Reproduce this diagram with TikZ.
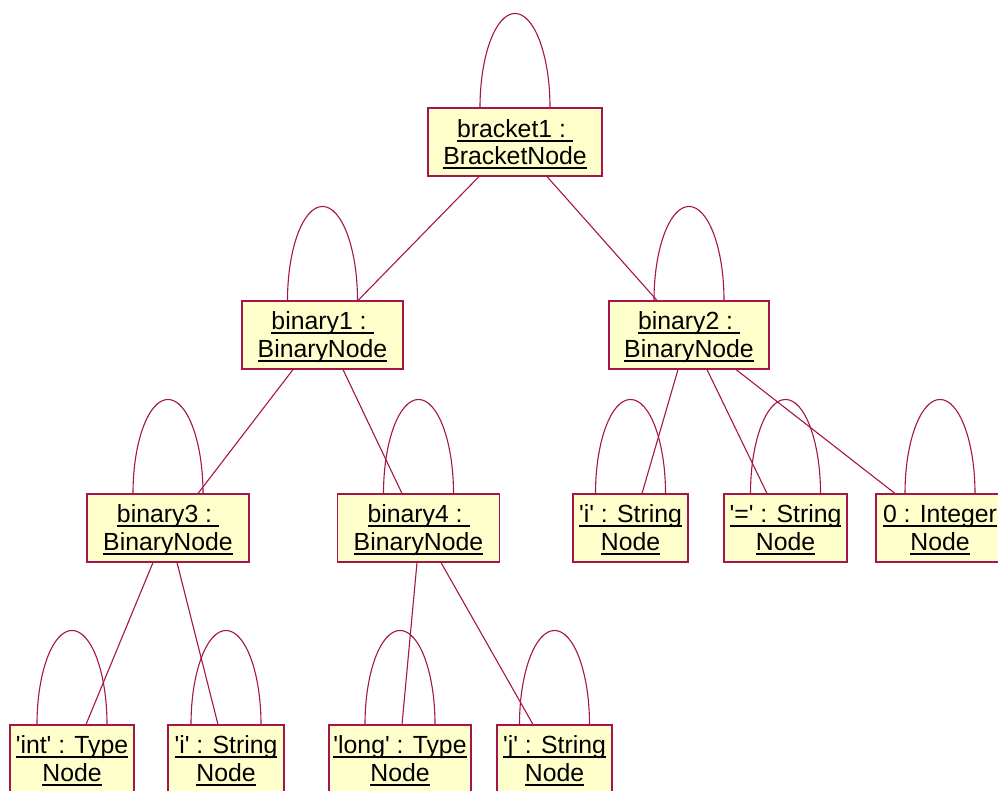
\documentclass[tikz,border=0pt]{standalone}
\usepackage{fontspec}
\setmainfont{Liberation Sans}
\definecolor{edgecol}{RGB}{165,20,75}
\definecolor{boxfill}{RGB}{255,255,204}
% underline at a fixed depth below the baseline
\newcommand\ulin[1]{\setbox0\hbox{#1}\rlap{\rule[-4.6pt]{\wd0}{1.7pt}}\box0}
\newcommand\sq{\textquotesingle}
% two underlined lines with fixed metrics
\newcommand\objtxt[2]{\ulin{#1}\rule[-5pt]{0pt}{27pt}\\\ulin{#2}\rule[-5pt]{0pt}{27pt}}
\begin{document}
\begin{tikzpicture}[x=1pt,y=1pt,
  obj/.style={draw=edgecol, fill=boxfill, line width=1.1pt, inner sep=0pt,
    minimum height=68pt, align=center,
    font=\fontsize{24.8}{27}\selectfont},
  link/.style={draw=edgecol, line width=1.1pt},
  selfloop/.style={draw=edgecol, line width=1.1pt}]
\useasboundingbox (0,0) rectangle (998,-790);
\clip (0,0) rectangle (998,-790);

% object boxes
\node[obj, minimum width=174pt] (br) at (515,-142) {\objtxt{bracket1 :\ }{BracketNode}};
\node[obj, minimum width=161pt] (b1) at (322.5,-335) {\objtxt{binary1 :\ }{BinaryNode}};
\node[obj, minimum width=160pt] (b2) at (689,-335) {\objtxt{binary2 :\ }{BinaryNode}};
\node[obj, minimum width=162pt] (b3) at (168,-528) {\objtxt{binary3 :\ }{BinaryNode}};
\node[obj, minimum width=162pt] (b4) at (418.5,-528) {\objtxt{binary4 :\ }{BinaryNode}};
\node[obj, minimum width=115pt] (si) at (630.5,-528) {\objtxt{\sq i\sq{} : String}{Node}};
\node[obj, minimum width=123pt] (seq) at (785.5,-528) {\objtxt{\sq=\sq{} : String}{Node}};
\node[obj, minimum width=128pt] (int0) at (940,-528) {\objtxt{0 : Integer}{Node}};
\node[obj, minimum width=124pt] (tint) at (72,-759) {\objtxt{\sq int\sq{} : Type}{Node}};
\node[obj, minimum width=116pt] (si2) at (226,-759) {\objtxt{\sq i\sq{} : String}{Node}};
\node[obj, minimum width=142pt] (tlong) at (400,-759) {\objtxt{\sq long\sq{} : Type}{Node}};
\node[obj, minimum width=115pt] (sj) at (554.5,-759) {\objtxt{\sq j\sq{} : String}{Node}};

% self loops above each box
\foreach \n in {br,b1,b2,b3,b4,si,seq,int0,tint,si2,tlong,sj}
  \draw[selfloop] ([xshift=-35pt]\n.north) arc[start angle=180, end angle=0, x radius=35, y radius=94];

% parent-child links
\draw[link] ([xshift=-36pt]br.south) -- ([xshift=35.5pt]b1.north);
\draw[link] ([xshift=32pt]br.south) -- ([xshift=-32pt]b2.north);
\draw[link] ([xshift=-29.5pt]b1.south) -- ([xshift=30pt]b3.north);
\draw[link] ([xshift=20.5pt]b1.south) -- ([xshift=-16.5pt]b4.north);
\draw[link] ([xshift=-11pt]b2.south) -- ([xshift=11.5pt]si.north);
\draw[link] ([xshift=18pt]b2.south) -- ([xshift=-18.5pt]seq.north);
\draw[link] ([xshift=47pt]b2.south) -- ([xshift=-45pt]int0.north);
\draw[link] ([xshift=-15pt]b3.south) -- ([xshift=14pt]tint.north);
\draw[link] ([xshift=9pt]b3.south) -- ([xshift=-8pt]si2.north);
\draw[link] ([xshift=-1.5pt]b4.south) -- ([xshift=2pt]tlong.north);
\draw[link] ([xshift=22.5pt]b4.south) -- ([xshift=-21.5pt]sj.north);
\end{tikzpicture}
\end{document}
